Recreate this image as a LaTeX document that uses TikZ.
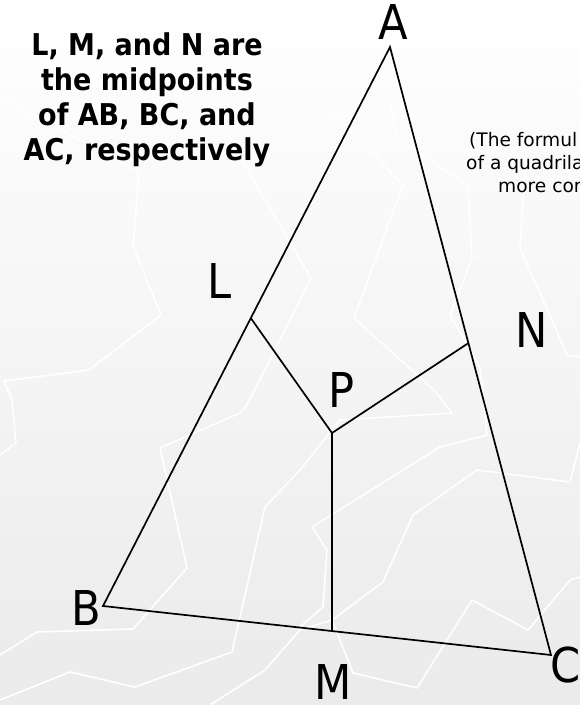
\documentclass[tikz,border=0pt]{standalone}
\usepackage{fontspec}
\setmainfont{DejaVu Sans Condensed}
\newfontfamily\widefont{DejaVu Sans}
\usetikzlibrary{calc}
\begin{document}
\begin{tikzpicture}[x=1pt,y=-1pt,
  bgline/.style={white,line width=1.6pt,line join=round},
  edge/.style={black,line width=1.7pt,line join=miter},
  vlabel/.style={inner sep=0pt,font=\fontsize{48}{48}\selectfont},
  smalltext/.style={inner sep=0pt,anchor=base west,font=\widefont\fontsize{18.6}{23}\selectfont}]
\useasboundingbox (0,0) rectangle (580,705);
\clip (0,0) rectangle (580,705);
\shade[top color=white,bottom color=black!8] (0,0) rectangle (580,705);
% background zigzags
\draw[bgline] (0,97)--(139,172)--(133,246)--(161,315)--(89,370)--(4,381)--(12,400)--(16,443)--(0,455);
\draw[bgline] (215,110)--(252,178)--(311,278)--(247,405)--(240,413)--(160,448)--(187,568)--(133,629)--(37,632)--(0,655);
\draw[bgline] (330,110)--(360,140)--(403,185)--(354,318)--(435,391)--(452,413)--(340,420)--(300,470)--(265,507)--(232,652)--(135,687)--(70,672)--(0,700);
\draw[bgline] (390,100)--(397,138)--(468,186)--(472,259)--(450,315)--(480,367)--(487,435)--(440,447)--(312,527)--(327,550)--(323,607)--(300,627);
\draw[bgline] (580,443)--(570,482)--(477,470)--(413,515)--(383,582)--(332,620)--(300,630)--(265,670)--(210,705);
\draw[bgline] (330,615)--(353,673)--(417,688)--(472,600)--(528,630)--(570,580)--(580,577);
\draw[bgline] (526,150)--(520,248)--(543,300)--(567,355)--(580,357);
\draw[bgline] (560,60)--(580,97);
% vertices
\coordinate (A) at (390,47);
\coordinate (B) at (103,606);
\coordinate (C) at (551,655);
\coordinate (L) at ($(A)!0.485!(B)$);
\coordinate (N) at ($(A)!0.487!(C)$);
\coordinate (M) at ($(B)!0.511!(C)$);
\coordinate (P) at (332,433);
% figure
\draw[edge] (A)--(B)--(C)--cycle;
\draw[edge] (L)--(P);
\draw[edge] (N)--(P);
\draw[edge] (M)--(P);
% labels
\node[vlabel] (lA) at (393,22) {A};
\node[vlabel] (lB) at (86,608) {B};
\node[vlabel] (lC) at (566,665) {C};
\node[vlabel] (lL) at (220,281) {L};
\node[vlabel] (lN) at (532,330) {N};
\node[vlabel] (lM) at (333,682) {M};
\node[vlabel] (lP) at (342,390) {P};
% texts
\node[align=center,inner sep=0pt,font=\bfseries\fontsize{30}{35}\selectfont] (note) at (147,100)
  {L, M, and N are\\the midpoints\\of AB, BC, and\\AC, respectively};
\node[smalltext] (t1) at (469,146) {(The formul};
\node[smalltext] (t2) at (466,169) {of a quadrila};
\node[smalltext] (t3) at (498,192) {more cor};
\end{tikzpicture}
\end{document}
